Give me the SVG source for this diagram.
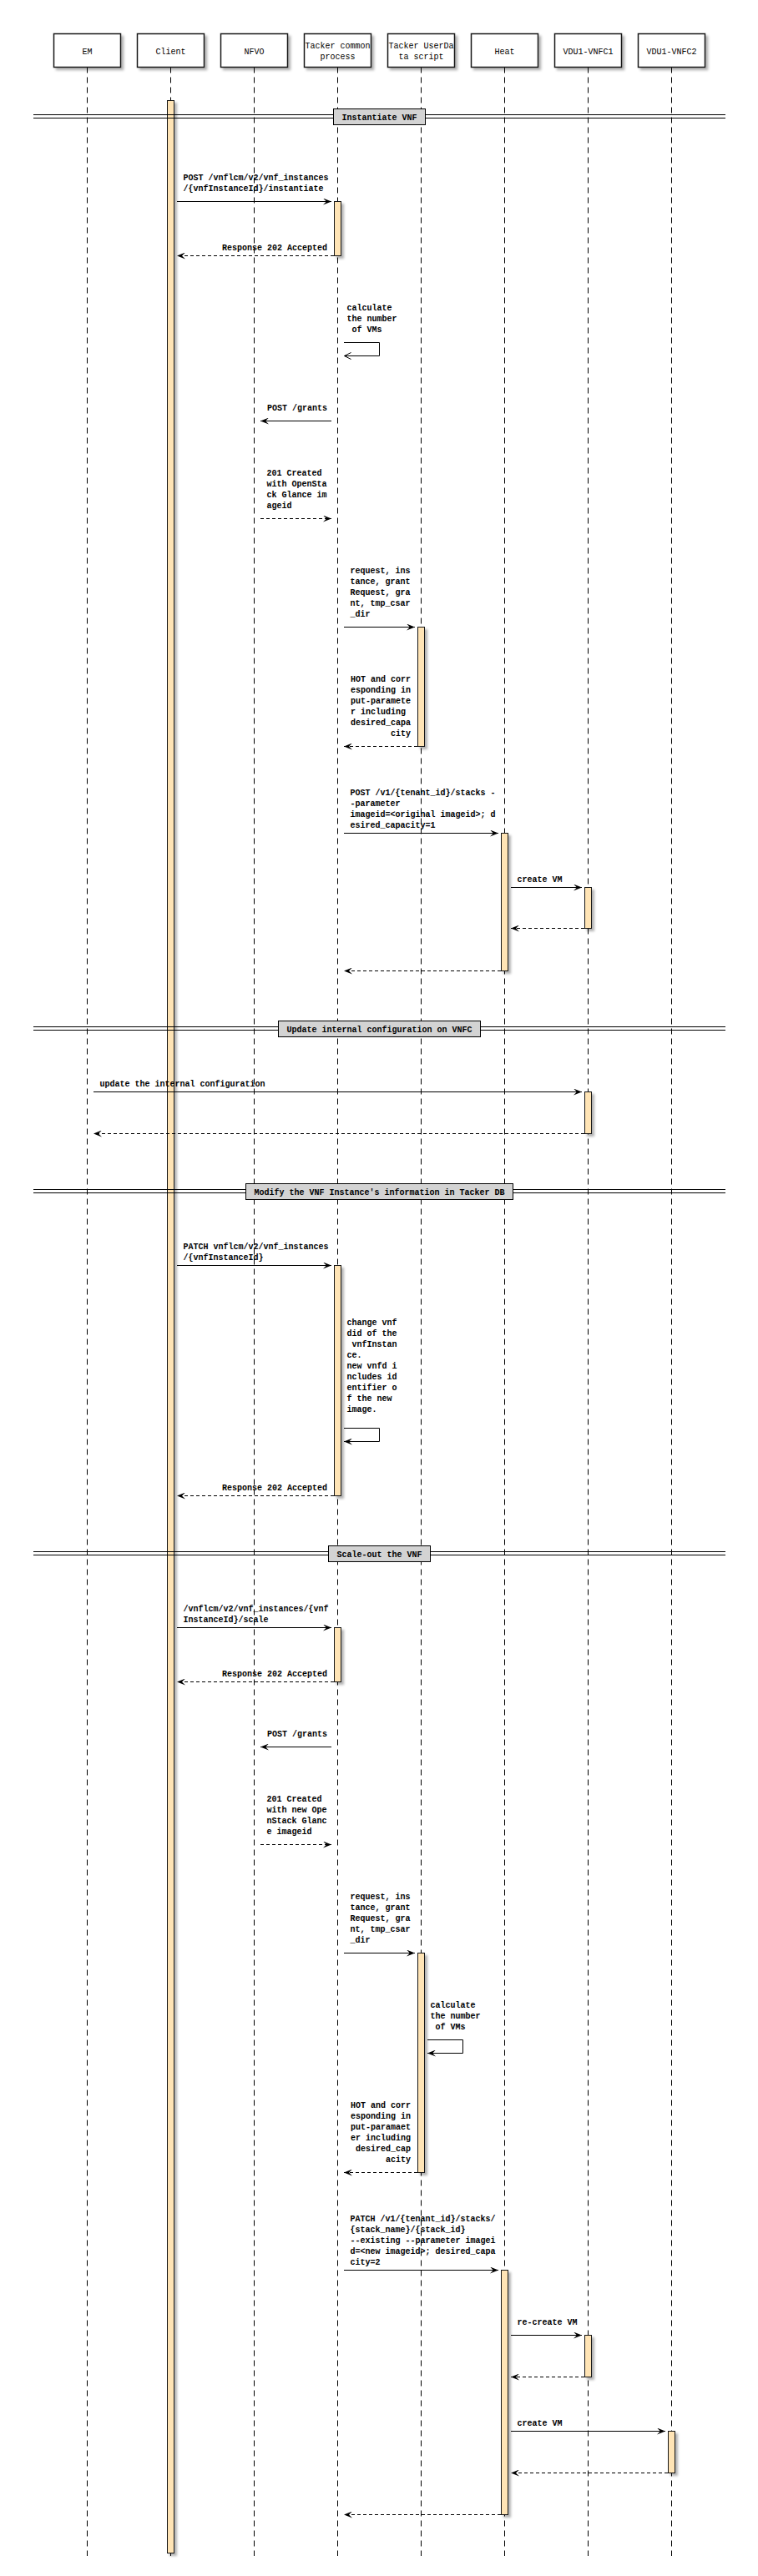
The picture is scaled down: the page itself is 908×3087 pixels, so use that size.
<svg xmlns="http://www.w3.org/2000/svg" width="908" height="3087" viewBox="0 0 908 3087">
<defs>
<style>
.bg{fill:#fff}
.ll{stroke:#000;stroke-width:1;stroke-dasharray:7,5;fill:none}
.box{fill:#fff;stroke:#181818;stroke-width:1.5;filter:url(#sh)}
.pl{font-family:"Liberation Mono",monospace;font-size:10px;text-anchor:middle;fill:#000}
.act{fill:#FFE4B5;stroke:#181818;stroke-width:1;filter:url(#sh)}
.dl{stroke:#000;stroke-width:1;fill:none}
.db{fill:#D3D3D3;stroke:#000;stroke-width:1}
.dt{font-family:"Liberation Mono",monospace;font-size:10px;font-weight:bold;text-anchor:middle;fill:#000}
.m{stroke:#000;stroke-width:1;fill:none;marker-end:url(#ah)}
.r{stroke-dasharray:4,3}
.o{marker-end:url(#oh)}
.t{font-family:"Liberation Mono",monospace;font-size:10px;font-weight:bold;fill:#000}
.e{text-anchor:end}
</style>
<filter id="sh" x="-100%" y="-20%" width="300%" height="140%">
<feGaussianBlur in="SourceAlpha" stdDeviation="1.5"/>
<feOffset dx="3" dy="3" result="b"/>
<feFlood flood-color="#000" flood-opacity="0.3"/>
<feComposite in2="b" operator="in"/>
<feMerge><feMergeNode/><feMergeNode in="SourceGraphic"/></feMerge>
</filter>
<marker id="ah" viewBox="0 0 10 8" refX="10" refY="4" markerWidth="10" markerHeight="8" markerUnits="userSpaceOnUse" orient="auto">
<path d="M0,0 L10,4 L0,8 L4,4 Z" fill="#000"/>
</marker>
<marker id="oh" viewBox="0 0 10 10" refX="9" refY="5" markerWidth="10" markerHeight="10" markerUnits="userSpaceOnUse" orient="auto">
<path d="M1,1 L9,5 L1,9" fill="none" stroke="#000" stroke-width="1"/>
</marker>
</defs>
<rect class="bg" x="0" y="0" width="908" height="3087"/>

<g id="participants">
<g id="p-em"><line class="ll" x1="104.5" y1="80.5" x2="104.5" y2="3063"/><rect class="box" x="64.5" y="40.5" width="80" height="40"/><text class="pl" x="104.5" y="64.5">EM</text></g>
<g id="p-client"><line class="ll" x1="204.5" y1="80.5" x2="204.5" y2="3063"/><rect class="box" x="164.5" y="40.5" width="80" height="40"/><text class="pl" x="204.5" y="64.5">Client</text></g>
<g id="p-nfvo"><line class="ll" x1="304.5" y1="80.5" x2="304.5" y2="3063"/><rect class="box" x="264.5" y="40.5" width="80" height="40"/><text class="pl" x="304.5" y="64.5">NFVO</text></g>
<g id="p-tacker"><line class="ll" x1="404.5" y1="80.5" x2="404.5" y2="3063"/><rect class="box" x="364.5" y="40.5" width="80" height="40"/><text class="pl" x="404.5" y="57.5">Tacker common</text><text class="pl" x="404.5" y="70.5">process</text></g>
<g id="p-userdata"><line class="ll" x1="504.5" y1="80.5" x2="504.5" y2="3063"/><rect class="box" x="464.5" y="40.5" width="80" height="40"/><text class="pl" x="504.5" y="57.5">Tacker UserDa</text><text class="pl" x="504.5" y="70.5">ta script</text></g>
<g id="p-heat"><line class="ll" x1="604.5" y1="80.5" x2="604.5" y2="3063"/><rect class="box" x="564.5" y="40.5" width="80" height="40"/><text class="pl" x="604.5" y="64.5">Heat</text></g>
<g id="p-vnfc1"><line class="ll" x1="704.5" y1="80.5" x2="704.5" y2="3063"/><rect class="box" x="664.5" y="40.5" width="80" height="40"/><text class="pl" x="704.5" y="64.5">VDU1-VNFC1</text></g>
<g id="p-vnfc2"><line class="ll" x1="804.5" y1="80.5" x2="804.5" y2="3063"/><rect class="box" x="764.5" y="40.5" width="80" height="40"/><text class="pl" x="804.5" y="64.5">VDU1-VNFC2</text></g>
</g>

<g id="activations">
<rect id="a-client" class="act" x="200.5" y="120.5" width="8" height="2939"/>
<rect id="a-tacker1" class="act" x="400.5" y="241.5" width="8" height="65"/>
<rect id="a-ud1" class="act" x="500.5" y="751.5" width="8" height="143"/>
<rect id="a-heat1" class="act" x="600.5" y="998.5" width="8" height="165"/>
<rect id="a-vnfc1a" class="act" x="700.5" y="1063.5" width="8" height="49"/>
<rect id="a-vnfc1b" class="act" x="700.5" y="1308.5" width="8" height="50"/>
<rect id="a-tacker2" class="act" x="400.5" y="1516.5" width="8" height="276"/>
<rect id="a-tacker3" class="act" x="400.5" y="1950.5" width="8" height="65"/>
<rect id="a-ud2" class="act" x="500.5" y="2340.5" width="8" height="263"/>
<rect id="a-heat2" class="act" x="600.5" y="2720.5" width="8" height="293"/>
<rect id="a-vnfc1c" class="act" x="700.5" y="2798.5" width="8" height="50"/>
<rect id="a-vnfc2" class="act" x="800.5" y="2913.5" width="8" height="50"/>
</g>

<g id="dividers">
<g id="d-instantiate"><line class="dl" x1="40" y1="137.5" x2="869" y2="137.5"/><line class="dl" x1="40" y1="141.5" x2="869" y2="141.5"/><rect class="db" x="399.5" y="130.5" width="110" height="19"/><text class="dt" x="454.5" y="143.5">Instantiate VNF</text></g>
<g id="d-update"><line class="dl" x1="40" y1="1230.5" x2="869" y2="1230.5"/><line class="dl" x1="40" y1="1234.5" x2="869" y2="1234.5"/><rect class="db" x="333.5" y="1223.5" width="242" height="19"/><text class="dt" x="454.5" y="1236.5">Update internal configuration on VNFC</text></g>
<g id="d-modify"><line class="dl" x1="40" y1="1425.5" x2="869" y2="1425.5"/><line class="dl" x1="40" y1="1429.5" x2="869" y2="1429.5"/><rect class="db" x="294.5" y="1418.5" width="320" height="19"/><text class="dt" x="454.5" y="1431.5">Modify the VNF Instance's information in Tacker DB</text></g>
<g id="d-scale"><line class="dl" x1="40" y1="1859.5" x2="869" y2="1859.5"/><line class="dl" x1="40" y1="1863.5" x2="869" y2="1863.5"/><rect class="db" x="393.5" y="1852.5" width="122" height="19"/><text class="dt" x="454.5" y="1865.5">Scale-out the VNF</text></g>
</g>

<g id="connectors">
<g id="m1"><line class="m" x1="212" y1="241.5" x2="397" y2="241.5"/><text class="t" x="219.5" y="216">POST /vnflcm/v2/vnf_instances</text><text class="t" x="219.5" y="229">/{vnfInstanceId}/instantiate</text></g>
<g id="m2"><line class="m r" x1="400" y1="306.5" x2="212" y2="306.5"/><text class="t e" x="392" y="300">Response 202 Accepted</text></g>
<g id="s1"><path class="m o" d="M412,410.5 H454.5 V426.5 H412.5"/><text class="t" x="415.5" y="372">calculate</text><text class="t" x="415.5" y="385">the number</text><text class="t" x="421.5" y="398">of VMs</text></g>
<g id="m3"><line class="m" x1="397" y1="504.5" x2="312" y2="504.5"/><text class="t e" x="392" y="491.5">POST /grants</text></g>
<g id="m4"><line class="m r" x1="312" y1="621.5" x2="397" y2="621.5"/><text class="t" x="319.5" y="570">201 Created</text><text class="t" x="319.5" y="583">with OpenSta</text><text class="t" x="319.5" y="596">ck Glance im</text><text class="t" x="319.5" y="609">ageid</text></g>
<g id="m5"><line class="m" x1="412" y1="751.5" x2="497" y2="751.5"/><text class="t" x="419.5" y="687">request, ins</text><text class="t" x="419.5" y="700">tance, grant</text><text class="t" x="419.5" y="713">Request, gra</text><text class="t" x="419.5" y="726">nt, tmp_csar</text><text class="t" x="419.5" y="739">_dir</text></g>
<g id="m6"><line class="m r" x1="500" y1="894.5" x2="412" y2="894.5"/><text class="t e" x="492" y="817">HOT and corr</text><text class="t e" x="492" y="830">esponding in</text><text class="t e" x="492" y="843">put-paramete</text><text class="t" x="420" y="856">r including</text><text class="t e" x="492" y="869">desired_capa</text><text class="t e" x="492" y="882">city</text></g>
<g id="m7"><line class="m" x1="412" y1="998.5" x2="597" y2="998.5"/><text class="t" x="419.5" y="953">POST /v1/{tenant_id}/stacks -</text><text class="t" x="419.5" y="966">-parameter</text><text class="t" x="419.5" y="979">imageid=&lt;original imageid&gt;; d</text><text class="t" x="419.5" y="992">esired_capacity=1</text></g>
<g id="m8"><line class="m" x1="612" y1="1063.5" x2="697" y2="1063.5"/><text class="t" x="619.5" y="1057.3">create VM</text></g>
<g id="m9"><line class="m r" x1="700" y1="1112.5" x2="612" y2="1112.5"/></g>
<g id="m10"><line class="m r" x1="600" y1="1163.5" x2="412" y2="1163.5"/></g>
<g id="m11"><line class="m" x1="112" y1="1308.5" x2="697" y2="1308.5"/><text class="t" x="119.5" y="1302">update the internal configuration</text></g>
<g id="m12"><line class="m r" x1="700" y1="1358.5" x2="112" y2="1358.5"/></g>
<g id="m13"><line class="m" x1="212" y1="1516.5" x2="397" y2="1516.5"/><text class="t" x="219.5" y="1497.3">PATCH vnflcm/v2/vnf_instances</text><text class="t" x="219.5" y="1510.3">/{vnfInstanceId}</text></g>
<g id="s2"><path class="m" d="M412,1711.5 H454.5 V1727.5 H412"/><text class="t" x="415.5" y="1588">change vnf</text><text class="t" x="415.5" y="1601">did of the</text><text class="t" x="421.5" y="1614">vnfInstan</text><text class="t" x="415.5" y="1627">ce.</text><text class="t" x="415.5" y="1640">new vnfd i</text><text class="t" x="415.5" y="1653">ncludes id</text><text class="t" x="415.5" y="1666">entifier o</text><text class="t" x="415.5" y="1679">f the new</text><text class="t" x="415.5" y="1692">image.</text></g>
<g id="m14"><line class="m r" x1="400" y1="1792.5" x2="212" y2="1792.5"/><text class="t e" x="392" y="1786">Response 202 Accepted</text></g>
<g id="m15"><line class="m" x1="212" y1="1950.5" x2="397" y2="1950.5"/><text class="t" x="219.5" y="1931">/vnflcm/v2/vnf_instances/{vnf</text><text class="t" x="219.5" y="1944">InstanceId}/scale</text></g>
<g id="m16"><line class="m r" x1="400" y1="2015.5" x2="212" y2="2015.5"/><text class="t e" x="392" y="2009">Response 202 Accepted</text></g>
<g id="m17"><line class="m" x1="397" y1="2093.5" x2="312" y2="2093.5"/><text class="t e" x="392" y="2081">POST /grants</text></g>
<g id="m18"><line class="m r" x1="312" y1="2210.5" x2="397" y2="2210.5"/><text class="t" x="319.5" y="2159">201 Created</text><text class="t" x="319.5" y="2172">with new Ope</text><text class="t" x="319.5" y="2185">nStack Glanc</text><text class="t" x="319.5" y="2198">e imageid</text></g>
<g id="m19"><line class="m" x1="412" y1="2340.5" x2="497" y2="2340.5"/><text class="t" x="419.5" y="2276">request, ins</text><text class="t" x="419.5" y="2289">tance, grant</text><text class="t" x="419.5" y="2302">Request, gra</text><text class="t" x="419.5" y="2315">nt, tmp_csar</text><text class="t" x="419.5" y="2328">_dir</text></g>
<g id="s3"><path class="m" d="M512,2444.5 H554.5 V2460.5 H512"/><text class="t" x="515.5" y="2406">calculate</text><text class="t" x="515.5" y="2419">the number</text><text class="t" x="521.5" y="2432">of VMs</text></g>
<g id="m20"><line class="m r" x1="500" y1="2603.5" x2="412" y2="2603.5"/><text class="t e" x="492" y="2526">HOT and corr</text><text class="t e" x="492" y="2539">esponding in</text><text class="t e" x="492" y="2552">put-paramaet</text><text class="t e" x="492" y="2565">er including</text><text class="t e" x="492" y="2578">desired_cap</text><text class="t e" x="492" y="2591">acity</text></g>
<g id="m21"><line class="m" x1="412" y1="2720.5" x2="597" y2="2720.5"/><text class="t" x="419.5" y="2662">PATCH /v1/{tenant_id}/stacks/</text><text class="t" x="419.5" y="2675">{stack_name}/{stack_id}</text><text class="t" x="419.5" y="2688">--existing --parameter imagei</text><text class="t" x="419.5" y="2701">d=&lt;new imageid&gt;; desired_capa</text><text class="t" x="419.5" y="2714">city=2</text></g>
<g id="m22"><line class="m" x1="612" y1="2798.5" x2="697" y2="2798.5"/><text class="t" x="619.5" y="2786">re-create VM</text></g>
<g id="m23"><line class="m r" x1="700" y1="2848.5" x2="612" y2="2848.5"/></g>
<g id="m24"><line class="m" x1="612" y1="2913.5" x2="797" y2="2913.5"/><text class="t" x="619.5" y="2907">create VM</text></g>
<g id="m25"><line class="m r" x1="800" y1="2963.5" x2="612" y2="2963.5"/></g>
<g id="m26"><line class="m r" x1="600" y1="3013.5" x2="412" y2="3013.5"/></g>
</g>
</svg>
